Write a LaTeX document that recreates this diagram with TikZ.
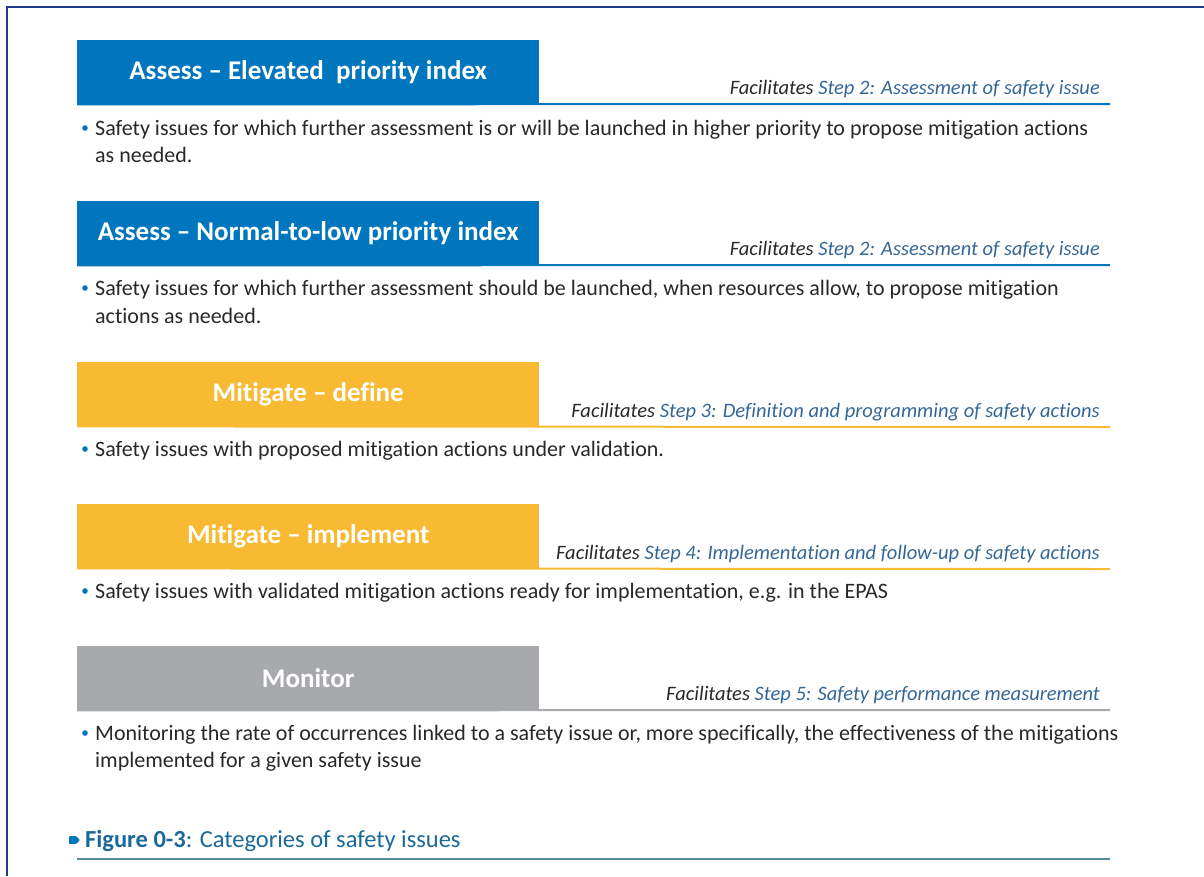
\documentclass[tikz,border=0pt]{standalone}
\usepackage{fontspec}
\setmainfont{Carlito}[Ligatures={NoCommon}]

\definecolor{easablue}{RGB}{0,118,190}
\definecolor{easayellow}{RGB}{249,186,51}
\definecolor{easagray}{RGB}{168,169,172}
\definecolor{steptext}{RGB}{52,103,150}
\definecolor{bodytext}{RGB}{40,40,40}
\definecolor{framecol}{RGB}{30,60,140}
\definecolor{capblue}{RGB}{25,105,155}
\definecolor{capline}{RGB}{90,135,160}

\begin{document}
\begin{tikzpicture}[x=1pt, y=-1pt,
  hdr/.style={anchor=north west, minimum width=462pt, minimum height=64pt, inner sep=0pt,
    text=white, font=\fontsize{27}{27}\selectfont\bfseries},
  fac/.style={anchor=base east, inner sep=0pt, text=bodytext,
    font=\fontsize{20.5}{20}\selectfont\itshape},
  txt/.style={anchor=base west, inner sep=0pt, text=bodytext,
    font=\fontsize{22}{22}\selectfont},
  hrule/.style={line width=2pt}]
\useasboundingbox (0,0) rectangle (1204,876);

% frame
\draw[framecol, line width=2pt] (7,876) -- (7,7) -- (1204,7);

% assess, elevated
\node (hdrA) [hdr, fill=easablue] at (77,40) {Assess – Elevated\ \ priority index};
\draw[hrule, easablue] (hdrA.south west) -- (1110,104);
\node (facA) [fac] at (1100,94) {Facilitates \textcolor{steptext}{Step 2: Assessment of safety issue}};
\fill[easablue] (85,128) circle (2.8);
\node (txtA1) [txt] at (95,135) {Safety issues for which further assessment is or will be launched in higher priority to propose mitigation actions};
\node (txtA2) [txt] at (95,162) {as needed.};

% assess, normal-to-low
\node (hdrB) [hdr, fill=easablue] at (77,201) {Assess – Normal-to-low priority index};
\draw[hrule, easablue] (hdrB.south west) -- (1110,265);
\node (facB) [fac] at (1100,255) {Facilitates \textcolor{steptext}{Step 2: Assessment of safety issue}};
\fill[easablue] (85,288) circle (2.8);
\node (txtB1) [txt] at (95,295) {Safety issues for which further assessment should be launched, when resources allow, to propose mitigation};
\node (txtB2) [txt] at (95,323) {actions as needed.};

% mitigate, define
\node (hdrC) [hdr, fill=easayellow] at (77,362) {Mitigate – define};
\draw[hrule, easayellow] (hdrC.south west) -- (1110,427);
\node (facC) [fac] at (1100,417) {Facilitates \textcolor{steptext}{Step 3: Definition and programming of safety actions}};
\fill[easablue] (85,449) circle (2.8);
\node (txtC1) [txt] at (95,456) {Safety issues with proposed mitigation actions under validation.};

% mitigate, implement
\node (hdrD) [hdr, fill=easayellow] at (77,504) {Mitigate – implement};
\draw[hrule, easayellow] (hdrD.south west) -- (1110,569);
\node (facD) [fac] at (1100,559) {Facilitates \textcolor{steptext}{Step 4: Implementation and follow-up of safety actions}};
\fill[easablue] (85,591) circle (2.8);
\node (txtD1) [txt] at (95,598) {Safety issues with validated mitigation actions ready for implementation, e.g. in the EPAS};

% monitor
\node (hdrE) [hdr, fill=easagray] at (77,646) {Monitor};
\draw[hrule, easagray] (hdrE.south west) -- (1110,710);
\node (facE) [fac] at (1100,700) {Facilitates \textcolor{steptext}{Step 5: Safety performance measurement}};
\fill[easablue] (85,733) circle (2.8);
\node (txtE1) [txt] at (95,740) {Monitoring the rate of occurrences linked to a safety issue or, more specifically, the effectiveness of the mitigations};
\node (txtE2) [txt] at (95,767) {implemented for a given safety issue};

% caption
\fill[easablue, rounded corners=1pt] (69,836) -- (76,836) -- (80,840) -- (76,844) -- (69,844) -- cycle;
\node (capA) [anchor=base west, inner sep=0pt, text=capblue, font=\fontsize{24.5}{24}\selectfont] at (85,847)
  {\textbf{Figure 0-3}: Categories of safety issues};
\draw[capline, line width=1.5pt] (77,859) -- (1110,859);
\end{tikzpicture}
\end{document}
